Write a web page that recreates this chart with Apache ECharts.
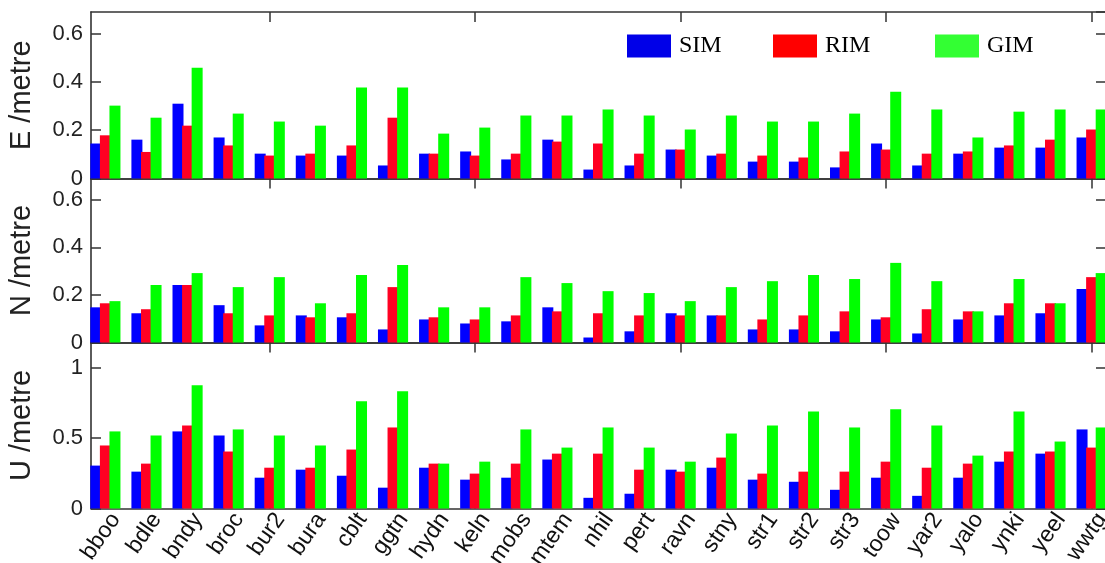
<!DOCTYPE html>
<html>
<head>
<meta charset="utf-8">
<script src="https://cdn.jsdelivr.net/npm/echarts@6/dist/echarts.min.js"></script>
<style>
  html, body { margin: 0; padding: 0; background: #fff; }
  #chart { width: 1105px; height: 563px; }
</style>
</head>
<body>
<div id="chart"></div>
<script>
// Station codes along the x axis
const stations = ['bboo', 'bdle', 'bndy', 'broc', 'bur2', 'bura', 'cblt', 'ggtn', 'hydn', 'keln',
  'mobs', 'mtem', 'nhil', 'pert', 'ravn', 'stny', 'str1', 'str2', 'str3', 'toow',
  'yar2', 'yalo', 'ynki', 'yeel', 'wwtg'];

// East component (metres)
const simE = [0.145, 0.161, 0.310, 0.170, 0.103, 0.095, 0.095, 0.054, 0.103, 0.112,
  0.079, 0.161, 0.037, 0.054, 0.120, 0.095, 0.070, 0.070, 0.046, 0.145,
  0.054, 0.103, 0.128, 0.128, 0.170];
const rimE = [0.179, 0.110, 0.219, 0.137, 0.095, 0.103, 0.137, 0.252, 0.103, 0.095,
  0.103, 0.153, 0.145, 0.103, 0.120, 0.103, 0.095, 0.087, 0.112, 0.120,
  0.103, 0.112, 0.137, 0.161, 0.203];
const gimE = [0.302, 0.252, 0.459, 0.269, 0.236, 0.219, 0.377, 0.377, 0.186, 0.211,
  0.261, 0.261, 0.286, 0.261, 0.203, 0.261, 0.236, 0.236, 0.269, 0.360,
  0.286, 0.170, 0.277, 0.286, 0.286];

// North component (metres)
const simN = [0.148, 0.123, 0.242, 0.157, 0.072, 0.114, 0.106, 0.055, 0.097, 0.080,
  0.089, 0.148, 0.021, 0.047, 0.123, 0.114, 0.055, 0.055, 0.047, 0.097,
  0.038, 0.097, 0.114, 0.123, 0.225];
const rimN = [0.165, 0.140, 0.242, 0.123, 0.114, 0.106, 0.123, 0.233, 0.106, 0.097,
  0.114, 0.131, 0.123, 0.114, 0.114, 0.114, 0.097, 0.114, 0.131, 0.106,
  0.140, 0.131, 0.165, 0.165, 0.275];
const gimN = [0.174, 0.242, 0.292, 0.233, 0.275, 0.165, 0.284, 0.326, 0.148, 0.148,
  0.275, 0.250, 0.216, 0.208, 0.174, 0.233, 0.258, 0.284, 0.267, 0.335,
  0.258, 0.131, 0.267, 0.165, 0.292];

// Up component (metres)
const simU = [0.305, 0.262, 0.548, 0.519, 0.219, 0.276, 0.233, 0.148, 0.290, 0.205,
  0.219, 0.348, 0.076, 0.105, 0.276, 0.290, 0.205, 0.190, 0.133, 0.219,
  0.090, 0.219, 0.333, 0.390, 0.562];
const rimU = [0.448, 0.319, 0.590, 0.405, 0.290, 0.290, 0.419, 0.576, 0.319, 0.248,
  0.319, 0.390, 0.390, 0.276, 0.262, 0.362, 0.248, 0.262, 0.262, 0.333,
  0.290, 0.319, 0.405, 0.405, 0.433];
const gimU = [0.548, 0.519, 0.876, 0.562, 0.519, 0.448, 0.762, 0.833, 0.319, 0.333,
  0.562, 0.433, 0.576, 0.433, 0.333, 0.533, 0.590, 0.690, 0.576, 0.705,
  0.590, 0.376, 0.690, 0.476, 0.576];

const models = ['SIM', 'RIM', 'GIM'];
const barColors = ['#0000ff', '#ff0022', '#00ff00'];
const legendColors = ['#0000e8', '#ff0000', '#33ff33'];
const xTicks = [5, 10, 15, 20, 25];
// station names sit a little right of each group so their upper ends meet the bars
const labelShift = 0.25;

const panels = [
  { name: 'E /metre', max: 0.69, interval: 0.2, top: 12, height: 166.5, data: [simE, rimE, gimE] },
  { name: 'N /metre', max: 0.69, interval: 0.2, top: 178.5, height: 164, data: [simN, rimN, gimN] },
  { name: 'U /metre', max: 1.18, interval: 0.5, top: 342.5, height: 166, data: [simU, rimU, gimU] }
];

const frame = { color: '#333', width: 1.6 };
const tickStyle = { color: '#333', width: 1.5 };

const grids = [], xAxes = [], yAxes = [], series = [];

panels.forEach((p, pi) => {
  grids.push({ left: 91, width: 1015, top: p.top, height: p.height, outerBoundsMode: 'none', containLabel: false });
  const isLast = pi === panels.length - 1;
  ['bottom', 'top'].forEach(pos => {
    xAxes.push({
      gridIndex: pi, type: 'value', min: 0.65, max: 25.35, position: pos,
      axisLine: { show: true, onZero: false, lineStyle: frame },
      axisTick: { show: true, inside: true, length: 10, customValues: xTicks, lineStyle: tickStyle },
      axisLabel: (pos === 'bottom' && isLast) ? {
        show: true, customValues: stations.map((s, i) => i + 1 + labelShift),
        formatter: v => stations[Math.round(v - labelShift) - 1] || '',
        rotate: 55, margin: 7, fontSize: 23, color: '#111',
        fontFamily: 'Liberation Sans, Arial, sans-serif'
      } : { show: false },
      splitLine: { show: false }
    });
  });
  ['left', 'right'].forEach(pos => {
    yAxes.push({
      gridIndex: pi, type: 'value', min: 0, max: p.max, interval: p.interval, position: pos,
      axisLine: { show: true, onZero: false, lineStyle: frame },
      axisTick: { show: true, inside: true, length: 10, lineStyle: tickStyle },
      axisLabel: pos === 'left' ? {
        show: true, showMaxLabel: false, margin: 8, fontSize: 22, color: '#222',
        fontFamily: 'Liberation Sans, Arial, sans-serif'
      } : { show: false },
      splitLine: { show: false },
      name: pos === 'left' ? p.name : '',
      nameLocation: 'middle', nameGap: 55,
      nameTextStyle: { fontSize: 29, color: '#222', fontFamily: 'Liberation Sans, Arial, sans-serif' }
    });
  });
  models.forEach((m, mi) => {
    series.push({
      type: 'bar', name: m,
      xAxisIndex: pi * 2, yAxisIndex: pi * 2,
      data: p.data[mi].map((v, i) => [i + 1, v]),
      barWidth: 11, barGap: '-13%',
      itemStyle: { color: barColors[mi] },
      animation: false
    });
  });
});

const legendLeft = [627, 773, 935];
const legends = models.map((m, mi) => ({
  left: legendLeft[mi], top: 34, padding: 0,
  itemWidth: 44, itemHeight: 23, icon: 'rect',
  data: [{ name: m, itemStyle: { color: legendColors[mi] } }],
  textStyle: { fontSize: 24, color: '#000', fontFamily: 'Liberation Serif, Times New Roman, serif', padding: [0, 0, 0, 3] }
}));

const chart = echarts.init(document.getElementById('chart'), null, { renderer: 'canvas' });
chart.setOption({
  backgroundColor: '#fff',
  animation: false,
  grid: grids,
  xAxis: xAxes,
  yAxis: yAxes,
  legend: legends,
  series: series
});
</script>
</body>
</html>
